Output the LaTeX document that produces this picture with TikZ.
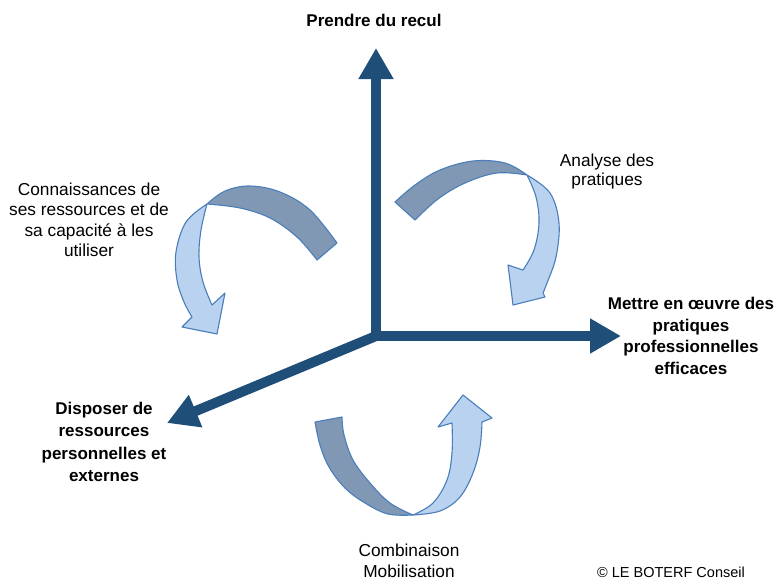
\documentclass[tikz,border=0pt]{standalone}
\usepackage{fontspec}
\setmainfont{Liberation Sans}
\usetikzlibrary{arrows.meta}
\definecolor{axisblue}{HTML}{1F4E79}
\definecolor{ribbonline}{HTML}{4A7EBB}
\definecolor{ribbondark}{HTML}{8198B4}
\definecolor{ribbonlight}{HTML}{B8D2EF}
\tikzset{
  axis/.style={draw=axisblue, line width=10pt, -{Triangle[width=33pt,length=31pt]}},
  backside/.style={fill=ribbondark, draw=ribbonline, line width=1.1pt, line join=round},
  frontside/.style={fill=ribbonlight, draw=ribbonline, line width=1.1pt, line join=round},
  lbl/.style={inner sep=0pt, align=center, text=black},
  reg/.style={font=\fontsize{17.3}{20.5}\selectfont},
  bld/.style={font=\bfseries\fontsize{17}{21.5}\selectfont},
}
\begin{document}
\begin{tikzpicture}[x=1pt,y=-1pt]
\useasboundingbox (0,0) rectangle (777,582);
% axes
\coordinate (O) at (376,336);
\coordinate (tipUp) at (376,48);
\coordinate (tipRight) at (621,336);
\coordinate (tipDiag) at (167,423);
\draw[axis] (O) -- (tipDiag);
\draw[axis, line join=miter, {Triangle[width=33pt,length=31pt]}-{Triangle[width=33pt,length=31pt]}] (tipUp) -- (O) -- (tipRight);

% top-left ribbon arrow
\filldraw[backside] plot[smooth, tension=0.6] coordinates {(207,204) (225,191) (250,186) (280,192) (310,210) (337,243)}
  -- (317,260)
  -- plot[smooth, tension=0.6] coordinates {(317,260) (297,237) (270,218) (240,208) (207,204)} -- cycle;
\filldraw[frontside] plot[smooth, tension=0.6] coordinates {(207,204) (186,222) (176,252) (177,280) (184,302) (192,317)}
  -- (182,327) -- (217,334) -- (225,293) -- (212,305)
  -- plot[smooth, tension=0.6] coordinates {(212,305) (203,282) (199,257) (201,230) (207,204)} -- cycle;

% top-right ribbon arrow
\filldraw[backside] plot[smooth, tension=0.6] coordinates {(395,202) (415,185) (440,170) (473,161) (505,163) (527,175)}
  -- plot[smooth, tension=0.6] coordinates {(527,175) (497,173) (465,183) (438,199) (415,220)} -- cycle;
\filldraw[frontside] plot[smooth, tension=0.6] coordinates {(527,175) (550,193) (559,223) (556,257) (547,283) (543,293)}
  -- (545,297) -- (513,305) -- (508,265) -- (523,270)
  -- plot[smooth, tension=0.6] coordinates {(523,270) (534,250) (539,223) (536,197) (527,175)} -- cycle;

% bottom ribbon arrow
\filldraw[backside] (315,422) -- (342,417)
  -- plot[smooth, tension=0.6] coordinates {(342,417) (344,435) (353,460) (370,483) (390,503) (413,515)}
  -- plot[smooth, tension=0.6] coordinates {(413,515) (388,514) (365,503) (345,488) (329,467) (320,445) (315,422)} -- cycle;
\filldraw[frontside] plot[smooth, tension=0.6] coordinates {(413,515) (440,511) (460,497) (473,473) (480,447) (482,422)}
  -- (492,418) -- (463,395) -- (438,427) -- (452,423)
  -- plot[smooth, tension=0.6] coordinates {(452,423) (452,453) (447,480) (433,503) (413,515)} -- cycle;

% labels
\node[lbl, bld, anchor=base] (recul) at (374,26.7) {Prendre du recul};
\node[lbl, reg, font=\fontsize{17.3}{18.5}\selectfont] (analyse) at (607,171.6) {Analyse des\\pratiques};
\node[lbl, reg] (connais) at (89,220) {Connaissances de\\ses ressources et de\\sa capacité à les\\utiliser};
\node[lbl, bld] (mettre) at (691,336) {Mettre en œuvre des\\pratiques\\professionnelles\\efficaces};
\node[lbl, bld, font=\bfseries\fontsize{17}{22.2}\selectfont] (disposer) at (104,442) {Disposer de\\ressources\\personnelles et\\externes};
\node[lbl, reg, font=\fontsize{17.3}{21.6}\selectfont] (combi) at (409,561) {Combinaison\\Mobilisation};
\node[lbl, anchor=base, font=\fontsize{14.5}{17}\selectfont] (copy) at (671,577) {© LE BOTERF Conseil};
\end{tikzpicture}
\end{document}
